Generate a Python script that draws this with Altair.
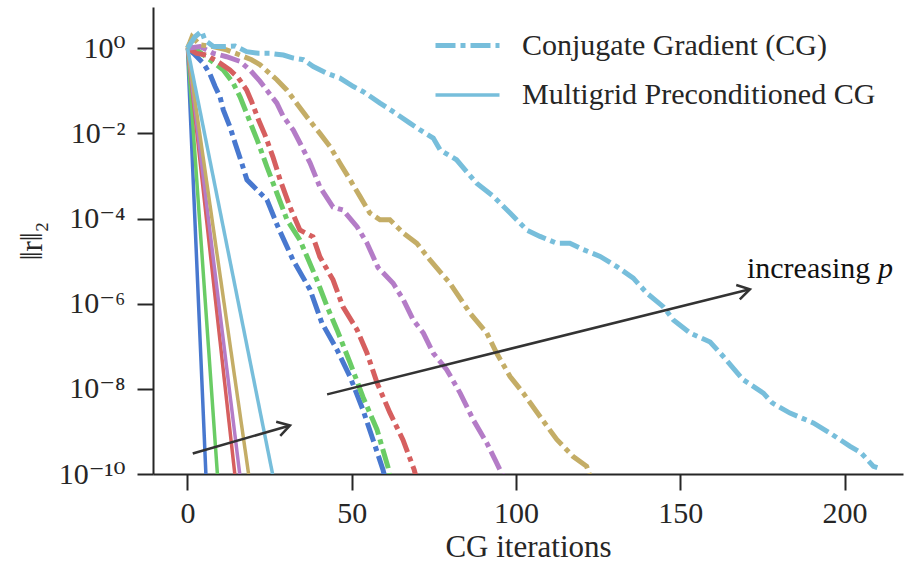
import altair as alt
import pandas as pd

# ---------------- data ----------------
palette = ["#4878CF", "#6ACC65", "#D65F5F", "#B47CC7", "#C4AD66", "#77BEDB"]
series_names = ["p1", "p2", "p3", "p4", "p5", "p6"]
method_names = ["Conjugate Gradient (CG)", "Multigrid Preconditioned CG"]

# CG residual histories: iteration and log10(residual)
cg_blue_it = [0, 1.8, 4.8, 6.8, 8.4, 9.9, 10.9, 12.9, 14.5, 16.3, 18.1, 21.2, 24.2, 27.5, 32.1, 37.3, 40.9, 45.5, 49.5, 53.4, 56.5, 59.5, 60.0]
cg_blue_exp = [0, -0.12, -0.35, -0.6, -0.9, -1.14, -1.45, -1.84, -2.23, -2.65, -3.09, -3.33, -3.56, -4.19, -4.97, -5.67, -6.45, -7.08, -7.72, -8.49, -9.2, -9.9, -10.05]

cg_green_it = [0, 2.8, 6.8, 10.9, 13.9, 16.0, 18.0, 20.0, 21.2, 24.2, 27.2, 30.3, 34.2, 39.4, 42.5, 45.5, 49.5, 53.4, 57.7, 61.0, 61.5]
cg_green_exp = [0, -0.04, -0.27, -0.51, -0.82, -1.14, -1.53, -1.92, -2.15, -2.79, -3.4, -4.03, -4.5, -5.44, -6.07, -6.61, -7.39, -8.19, -8.96, -9.83, -10.05]

cg_red_it = [0, 2.8, 5.8, 9.9, 12.9, 15.5, 18.0, 19.5, 21.6, 23.6, 26.0, 28.2, 31.2, 34.2, 38.2, 40.3, 44.3, 47.3, 51.6, 54.6, 57.7, 61.6, 65.6, 69.0, 69.5]
cg_red_exp = [0, -0.12, -0.16, -0.35, -0.51, -0.7, -0.98, -1.25, -1.68, -2.04, -2.55, -3.09, -3.73, -4.27, -4.43, -4.9, -5.44, -6.07, -6.61, -7.15, -7.86, -8.56, -9.2, -9.9, -10.05]

cg_purple_it = [0, 3.8, 7.9, 11.9, 16.0, 19.0, 22.1, 24.1, 27.2, 29.2, 32.2, 34.2, 37.3, 40.3, 44.3, 47.3, 51.6, 54.6, 58.0, 62.6, 65.7, 68.7, 71.8, 74.8, 78.9, 83.0, 87.0, 91.1, 94.1, 95.6, 96.0]
cg_purple_exp = [0, 0.04, -0.12, -0.2, -0.31, -0.51, -0.78, -0.98, -1.29, -1.61, -1.92, -2.22, -2.69, -3.26, -3.73, -3.8, -4.19, -4.57, -5.15, -5.52, -5.91, -6.38, -6.69, -7.16, -7.55, -8.1, -8.73, -9.27, -9.74, -9.98, -10.05]

cg_tan_it = [0, 0.8, 1.4, 3.8, 7.8, 11.9, 16.0, 19.5, 22.1, 27.2, 30.2, 33.2, 36.3, 40.3, 43.4, 46.4, 49.5, 52.5, 55.5, 58.6, 61.6, 65.7, 69.8, 73.8, 79.9, 86.0, 91.1, 94.1, 98.2, 102.2, 107.3, 112.4, 117.4, 121.5, 122.5]
cg_tan_exp = [0, 0.15, 0.27, 0.08, 0.04, -0.04, -0.16, -0.27, -0.39, -0.74, -0.98, -1.29, -1.61, -2.0, -2.31, -2.7, -3.09, -3.48, -3.87, -4.03, -4.03, -4.34, -4.58, -4.97, -5.52, -6.22, -6.69, -7.16, -7.71, -8.1, -8.65, -9.19, -9.59, -9.82, -10.05]

cg_lblue_it = [0, 2.3, 4.3, 5.3, 7.9, 10.9, 14.5, 18.0, 21.6, 25.1, 29.2, 32.2, 35.3, 38.3, 42.4, 46.4, 50.5, 53.5, 58.6, 62.6, 67.7, 70.8, 74.8, 76.9, 81.9, 88.0, 93.1, 98.2, 103.3, 107.3, 112.4, 116.4, 120.5, 125.6, 130.7, 135.7, 139.8, 144.8, 147.9, 153.0, 159.1, 163.1, 169.2, 175.3, 178.0, 183.4, 190.5, 195.6, 201.7, 205.0, 208.8, 210.0]
cg_lblue_exp = [0, 0.27, 0.4, 0.19, 0.04, 0.04, 0.05, -0.08, -0.12, -0.12, -0.16, -0.23, -0.27, -0.43, -0.59, -0.7, -0.9, -1.02, -1.29, -1.49, -1.76, -1.92, -2.11, -2.39, -2.62, -3.17, -3.48, -3.87, -4.27, -4.42, -4.58, -4.58, -4.73, -4.89, -5.13, -5.4, -5.75, -6.07, -6.38, -6.69, -6.9, -7.24, -7.79, -8.1, -8.33, -8.57, -8.8, -9.04, -9.35, -9.5, -9.82, -9.85]

# Multigrid-preconditioned CG: start and bottom crossing (iteration, log10 residual)
mg_start_it = [0, 0, 0, 0, 0, 0]
mg_start_exp = [0, 0, 0, 0, 0, 0]
mg_end_it = [5.6, 9.1, 14.4, 15.9, 18.6, 25.9]
mg_end_exp = [-10, -10, -10, -10, -10, -10]

# annotation arrows (iteration, log10 residual)
arrow_id = ["a1", "a1", "a2", "a2"]
arrow_it = [1.6, 31.2, 42.5, 171.2]
arrow_exp = [-9.52, -8.86, -8.13, -5.66]
annot_it = [170.3]
annot_exp = [-5.39]
annot_p_it = [210.2]

y_tick_vals = [1e-10, 1e-8, 1e-6, 1e-4, 1e-2, 1e0]
y_tick_text = ["10⁻¹⁰", "10⁻⁸", "10⁻⁶", "10⁻⁴", "10⁻²", "10⁰"]
x_tick_vals = [0, 50, 100, 150, 200]

# ---------------- build table ----------------
cg_its = [cg_blue_it, cg_green_it, cg_red_it, cg_purple_it, cg_tan_it, cg_lblue_it]
cg_exps = [cg_blue_exp, cg_green_exp, cg_red_exp, cg_purple_exp, cg_tan_exp, cg_lblue_exp]
rows = []
for k in range(6):
    for i, e in zip(cg_its[k], cg_exps[k]):
        rows.append({"it": i, "r": 10.0 ** e, "p": series_names[k],
                     "method": method_names[0], "line": f"{k}_cg", "order": 2 * k})
    for i, e in ((mg_start_it[k], mg_start_exp[k]), (mg_end_it[k], mg_end_exp[k])):
        rows.append({"it": i, "r": 10.0 ** e, "p": series_names[k],
                     "method": method_names[1], "line": f"{k}_mg", "order": 2 * k + 1})
df = pd.DataFrame(rows)

arrows = pd.DataFrame({"it": arrow_it, "r": [10.0 ** e for e in arrow_exp], "aid": arrow_id})
heads = arrows.groupby("aid").tail(1).copy()
heads["ang"] = [344, 346]
annot = pd.DataFrame({"it": annot_it, "r": [10.0 ** e for e in annot_exp]})
annot_p = pd.DataFrame({"it": annot_p_it, "r": [10.0 ** e for e in annot_exp]})

FONT = "'Liberation Serif', 'Times New Roman', 'DejaVu Serif', serif"
TXT = "#262626"

label_expr = ""
for v, t in zip(y_tick_vals[:-1], y_tick_text[:-1]):
    label_expr += f"datum.value < {v * 3:g} ? '{t}' : "
label_expr += f"'{y_tick_text[-1]}'"

x_enc = alt.X("it:Q", scale=alt.Scale(domain=[-10.5, 217.8], nice=False, zero=False),
              axis=alt.Axis(values=x_tick_vals, title="CG iterations", format="d"))
y_enc = alt.Y("r:Q", scale=alt.Scale(type="log", domain=[1e-10, 9.3], nice=False),
              axis=alt.Axis(values=y_tick_vals, labelExpr=label_expr, title="‖r‖₂"))

lines = alt.Chart(df).mark_line(clip=True, strokeCap="butt").encode(
    x=x_enc,
    y=y_enc,
    color=alt.Color("p:N", scale=alt.Scale(domain=series_names, range=palette), legend=None),
    strokeDash=alt.StrokeDash(
        "method:N",
        scale=alt.Scale(domain=method_names, range=[[20, 5, 5, 5], [1, 0]]),
        legend=alt.Legend(title=None, orient="none", legendX=280, legendY=4,
                          symbolType="stroke", symbolSize=4096, symbolStrokeWidth=5,
                          symbolStrokeColor="#77BEDB", labelFontSize=30, labelFont=FONT,
                          labelColor=TXT, labelOffset=20, labelLimit=0, rowPadding=-27),
    ),
    strokeWidth=alt.StrokeWidth("method:N", scale=alt.Scale(domain=method_names, range=[5, 3.5]), legend=None),
    detail="line:N",
    order="order:Q",
)

arrow_lines = alt.Chart(arrows).mark_line(color="#333333", strokeWidth=2.5).encode(
    x="it:Q", y="r:Q", detail="aid:N")

arrow_heads = alt.Chart(heads).mark_point(
    shape="M-1,-0.6L0,0L-1,0.6", size=600, filled=False, color="#333333", strokeWidth=2.5, opacity=1
).encode(x="it:Q", y="r:Q", angle=alt.Angle("ang:Q", scale=None))

text1 = alt.Chart(annot).mark_text(text="increasing", align="left", baseline="alphabetic",
                                   font=FONT, fontSize=30, color="#111111").encode(x="it:Q", y="r:Q")
text2 = alt.Chart(annot_p).mark_text(text="p", align="left", baseline="alphabetic", fontStyle="italic",
                                     font=FONT, fontSize=30, color="#111111").encode(x="it:Q", y="r:Q")

chart = alt.layer(lines, arrow_lines, arrow_heads, text1, text2).properties(
    width=750, height=467,
    autosize=alt.AutoSizeParams(type="none"),
    padding={"left": 153, "top": 7, "right": 1, "bottom": 88},
).configure_view(stroke=None).configure_axis(
    grid=False, domainColor=TXT, domainWidth=2, tickColor=TXT, tickWidth=2, tickSize=16,
    labelFont=FONT, labelFontSize=30, labelColor=TXT, titleFont=FONT, titleFontSize=31,
    titleColor=TXT, titleFontWeight="normal",
).configure_axisX(labelPadding=8, titlePadding=4).configure_axisY(labelPadding=12, titlePadding=10)

chart.save("out.html", embed_options={"renderer": "svg", "actions": False})
